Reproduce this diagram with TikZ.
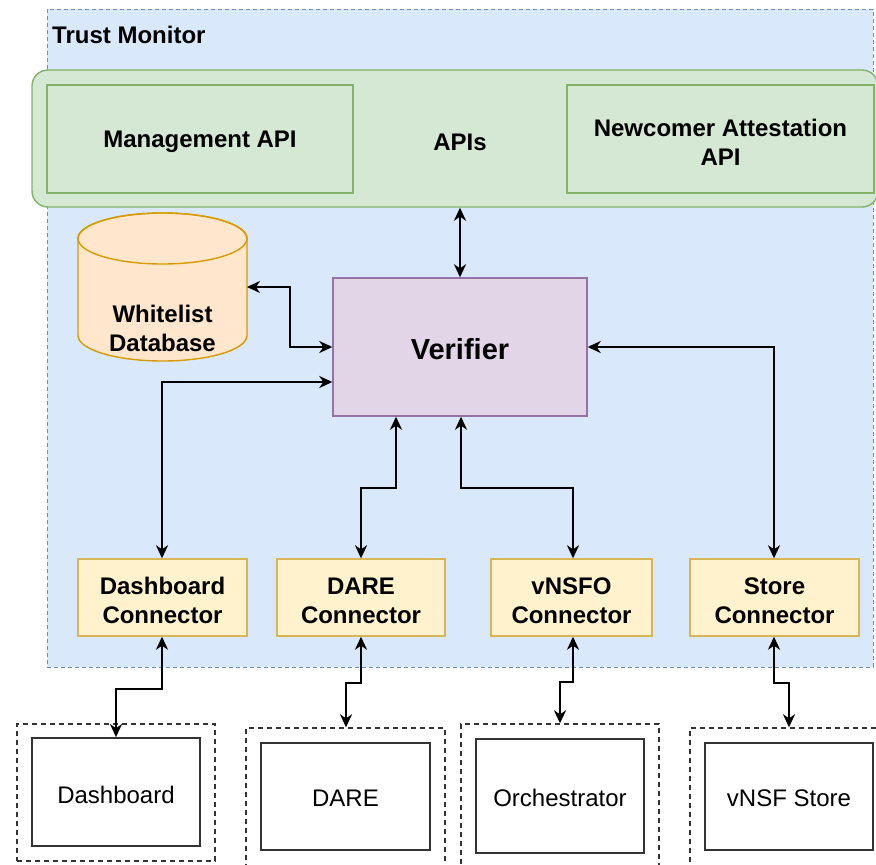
\documentclass[tikz,border=0pt]{standalone}
\usepackage{fontspec}
\setmainfont{Liberation Sans}
\usetikzlibrary{arrows.meta,calc}

\definecolor{tmfill}{HTML}{DAE8FC}
\definecolor{tmline}{HTML}{6C8EBF}
\definecolor{apifill}{HTML}{D5E8D4}
\definecolor{apiline}{HTML}{82B366}
\definecolor{dbfill}{HTML}{FFE6CC}
\definecolor{dbline}{HTML}{D79B00}
\definecolor{verfill}{HTML}{E1D5E7}
\definecolor{verline}{HTML}{9673A6}
\definecolor{confill}{HTML}{FFF2CC}
\definecolor{conline}{HTML}{D6B656}
\definecolor{extline}{HTML}{333333}

\tikzset{
  bigtext/.style={font=\fontsize{24}{29}\selectfont\bfseries, align=center, inner sep=0pt},
  plaintext/.style={font=\fontsize{24}{29}\selectfont, align=center, inner sep=0pt},
  apibox/.style={draw=apiline, fill=apifill, line width=1.4pt, inner sep=0pt},
  connbox/.style={draw=conline, fill=confill, line width=1.4pt, inner sep=0pt,
    minimum height=77pt},
  extbox/.style={draw=extline, fill=white, line width=1.8pt, inner sep=0pt},
  grpbox/.style={draw=black!80, dash pattern=on 5pt off 4pt, line width=1.4pt, inner sep=0pt},
  tipshape/.tip={Stealth[length=13pt,width=12pt,inset=4pt]},
  biarrow/.style={line width=2pt, draw=black, tipshape-tipshape},
}

\begin{document}
\begin{tikzpicture}[x=1pt, y=-1pt]
\useasboundingbox (0,0) rectangle (876,865);
\clip (0,0) rectangle (876,865);

% Trust Monitor container
\node[draw=tmline, fill=tmfill, dash pattern=on 4pt off 3pt, line width=0.9pt,
  minimum width=826pt, minimum height=658pt, inner sep=0pt] (tm) at (460,338) {};
\node[bigtext, anchor=west] (tmlabel) at (52,35) {Trust Monitor};

% API layer
\node[apibox, rounded corners=16pt, minimum width=846pt, minimum height=137pt] (apis) at (455,138.5) {};
\node[bigtext] (apilabel) at (460,142) {APIs};
\node[apibox, minimum width=306pt, minimum height=108pt] (mgmt) at (200,139) {};
\node[bigtext] (mgmtlabel) at ($(mgmt.center)+(0,3)$) {Management API};
\node[apibox, minimum width=307pt, minimum height=108pt] (newc) at (720.5,139) {};
\node[bigtext] (newclabel) at ($(newc.center)+(0,3)$) {Newcomer Attestation\\API};

% Whitelist database cylinder
\filldraw[fill=dbfill, draw=dbline, line width=1.4pt]
  (78,238.5) -- (78,335.5) arc[start angle=180, end angle=360, x radius=84.5pt, y radius=25.5pt]
  -- (247,238.5) arc[start angle=0, end angle=180, x radius=84.5pt, y radius=25.5pt] -- cycle;
\draw[draw=dbline, line width=1.4pt] (162.5,238.5) ellipse[x radius=84.5pt, y radius=25.5pt];
\node[bigtext] (db) at (162.5,328) {Whitelist\\Database};
\coordinate (dbR) at (247,287);

% Verifier
\node[draw=verline, fill=verfill, line width=1.4pt, minimum width=254pt, minimum height=138pt,
  inner sep=0pt] (ver) at (460,347) {};
\node[font=\fontsize{29}{34}\selectfont\bfseries, inner sep=0pt] (verlabel) at ($(ver.center)+(0,2)$) {Verifier};

% Connectors
\node[connbox, minimum width=169pt] (dc) at (162.5,597.5) {};
\node[connbox, minimum width=168pt] (darec) at (361,597.5) {};
\node[connbox, minimum width=161pt] (vnc) at (571.5,597.5) {};
\node[connbox, minimum width=169pt] (stc) at (774.5,597.5) {};
\node[bigtext] (dclabel) at ($(dc.center)+(0,3)$) {Dashboard\\Connector};
\node[bigtext] (dareclabel) at ($(darec.center)+(0,3)$) {DARE\\Connector};
\node[bigtext] (vnclabel) at ($(vnc.center)+(0,3)$) {vNSFO\\Connector};
\node[bigtext] (stclabel) at ($(stc.center)+(0,3)$) {Store\\Connector};

% External components
\node[grpbox, minimum width=198pt, minimum height=137pt] (dashout) at (116,792.5) {};
\node[extbox, minimum width=168pt, minimum height=108pt] (dashin) at (116,792) {};
\node[grpbox, minimum width=199pt, minimum height=150pt] (dareout) at (345.5,803) {};
\node[extbox, minimum width=169pt, minimum height=107pt] (darein) at (345.5,796.5) {};
\node[grpbox, minimum width=198pt, minimum height=144pt] (orchout) at (560,796) {};
\node[extbox, minimum width=168pt, minimum height=114pt] (orchin) at (560,796) {};
\node[grpbox, minimum width=198pt, minimum height=150pt] (storeout) at (789,803) {};
\node[extbox, minimum width=168pt, minimum height=107pt] (storein) at (789,796.5) {};
\node[plaintext] (dashlabel) at ($(dashin.center)+(0,3)$) {Dashboard};
\node[plaintext] (darelabel) at ($(darein.center)+(0,2)$) {DARE};
\node[plaintext] (orchlabel) at ($(orchin.center)+(0,2)$) {Orchestrator};
\node[plaintext] (storelabel) at ($(storein.center)+(0,2)$) {vNSF Store};

% Links inside the Trust Monitor
\draw[biarrow] (apis.south -| ver.north) -- (ver.north);
\draw[biarrow] (dbR) -- ++(43,0) |- (ver.west);
\draw[biarrow] ($(ver.west)+(0,35)$) -| ($(dc.north)+(-0.5,0)$);
\draw[biarrow] ($(ver.south)+(-64,0)$) -- ++(0,71) -| (darec.north);
\draw[biarrow] ($(ver.south)+(1,0)$) -- ++(0,71) -| ($(vnc.north)+(1.5,0)$);
\draw[biarrow] (ver.east) -| ($(stc.north)+(-0.5,0)$);

% Links to the external components
\draw[biarrow] ($(dc.south)+(-0.5,0)$) -- ++(0,52) -| (dashin.north);
\draw[biarrow] (darec.south) -- ++(0,46) -| ($(dareout.north)+(0.5,0)$);
\draw[biarrow] ($(vnc.south)+(1.5,0)$) -- ++(0,45) -| (orchout.north);
\draw[biarrow] ($(stc.south)+(-0.5,0)$) -- ++(0,46) -| (storeout.north);
\end{tikzpicture}
\end{document}
